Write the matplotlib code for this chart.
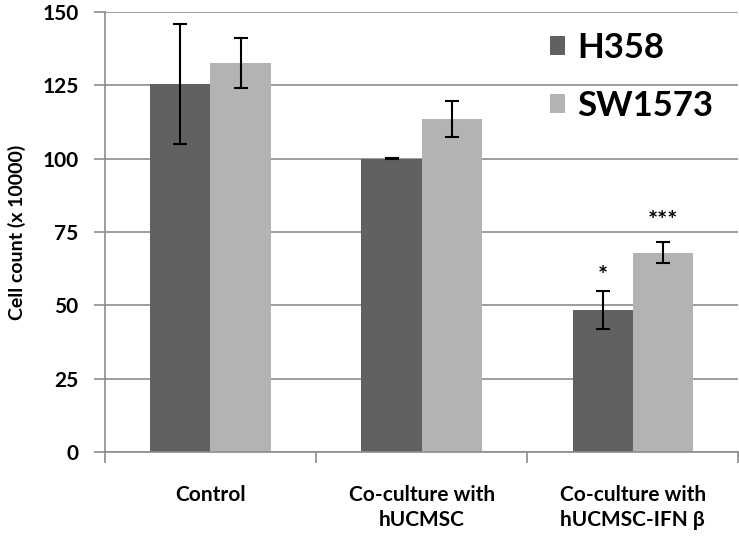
import numpy as np
import matplotlib.pyplot as plt

categories = ['Control', 'Co-culture with\nhUCMSC', 'Co-culture with\nhUCMSC-IFN \u03b2']
series_names = ['H358', 'SW1573']
h358 = [125.5, 100.0, 48.5]
h358_err = [20.5, 0.3, 6.4]
sw1573 = [132.5, 113.5, 68.0]
sw1573_err = [8.5, 6.0, 3.5]
h358_marks = ['', '', '*']
sw1573_marks = ['', '', '***']

plt.rcParams['font.family'] = ['Lato', 'DejaVu Sans']
plt.rcParams['font.weight'] = 'bold'

dark = '#616161'
light = '#b3b3b3'
axis_gray = '#8c8c8c'

fig = plt.figure(figsize=(7.39, 5.37), dpi=100)
ax = fig.add_axes([0.142, 0.158, 0.857, 0.82])

index = np.arange(len(categories))
bar_width = 0.285

ax.bar(index - bar_width / 2, h358, bar_width, color=dark, label=series_names[0], zorder=2)
ax.bar(index + bar_width / 2, sw1573, bar_width, color=light, label=series_names[1], zorder=2)
ax.errorbar(index - bar_width / 2, h358, yerr=h358_err, fmt='none', ecolor='black',
            elinewidth=1.5, capsize=5, capthick=1.5, zorder=3)
ax.errorbar(index + bar_width / 2, sw1573, yerr=sw1573_err, fmt='none', ecolor='black',
            elinewidth=1.5, capsize=5, capthick=1.5, zorder=3)

for i in range(len(categories)):
    if h358_marks[i]:
        ax.text(index[i] - bar_width / 2, h358[i] + h358_err[i] + 1, h358_marks[i],
                ha='center', va='bottom', fontsize=17, fontweight='bold')
    if sw1573_marks[i]:
        ax.text(index[i] + bar_width / 2, sw1573[i] + sw1573_err[i] + 3, sw1573_marks[i],
                ha='center', va='bottom', fontsize=17, fontweight='bold')

ax.set_xlim(-0.5, len(categories) - 0.5)
ax.set_ylim(0, 150)
ax.set_yticks(np.arange(0, 151, 25))
ax.set_yticklabels([str(v) for v in range(0, 151, 25)], fontsize=15, fontweight='bold')
ax.yaxis.grid(True, color=axis_gray, linewidth=1.2, zorder=0)
ax.set_axisbelow(True)

ax.set_xticks(np.arange(-0.5, len(categories), 1))
ax.set_xticklabels([])
ax.set_xticks(index, minor=True)
ax.set_xticklabels(categories, minor=True, fontsize=15, fontweight='bold', linespacing=1.3)
ax.tick_params(axis='x', which='minor', length=0, pad=24)
ax.tick_params(axis='x', which='major', length=8, color=axis_gray, width=1.2)
ax.tick_params(axis='y', length=8, color=axis_gray, width=1.2, pad=11)

for side in ['top', 'right']:
    ax.spines[side].set_visible(False)
for side in ['left', 'bottom']:
    ax.spines[side].set_color(axis_gray)
    ax.spines[side].set_linewidth(1.2)

ax.set_ylabel('Cell count (x 10000)', fontsize=14, fontweight='bold', labelpad=12)

leg = ax.legend(loc='upper right', bbox_to_anchor=(1.01, 1.025), frameon=False,
                handlelength=0.45, handleheight=0.45, handletextpad=0.35,
                labelspacing=0.75, prop={'size': 25, 'weight': 'bold'})

fig.savefig('out.png', dpi=100)
